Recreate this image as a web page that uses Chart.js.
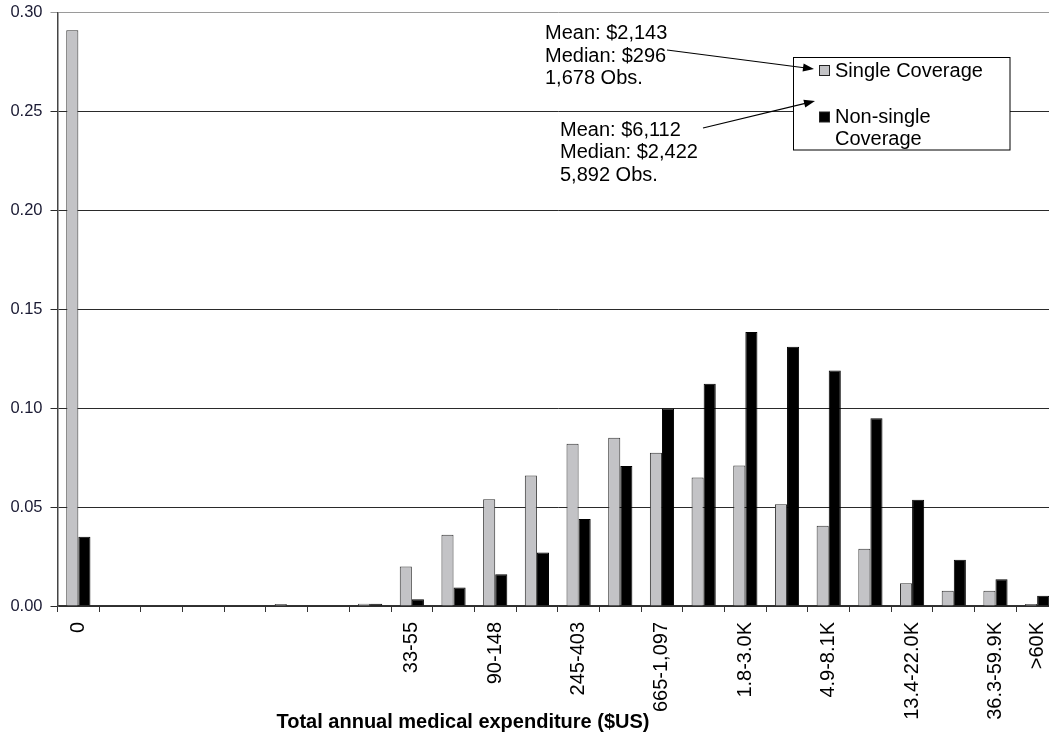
<!DOCTYPE html>
<html>
<head>
<meta charset="utf-8">
<script src="https://cdn.jsdelivr.net/npm/chart.js@4"></script>
<style>
  html, body { margin: 0; padding: 0; overflow: hidden; background: #fff; }
  #wrap { position: relative; width: 1058px; height: 736px; }
</style>
</head>
<body>
<div id="wrap"><canvas id="histChart"></canvas></div>
<script>
// expenditure bins (only every other bin is labelled in the original)
const binLabels = ['0', '', '', '', '', '', '', '', '33-55', '', '90-148', '', '245-403', '',
  '665-1,097', '', '1.8-3.0K', '', '4.9-8.1K', '', '13.4-22.0K', '', '36.3-59.9K', '>60K'];

const singleShare = [0.291, 0, 0, 0, 0, 0.001, 0, 0.0012, 0.020, 0.036, 0.054, 0.066, 0.082,
  0.085, 0.0775, 0.065, 0.071, 0.0514, 0.0406, 0.029, 0.0115, 0.0077, 0.0077, 0.001];

const nonSingleShare = [0.035, 0, 0, 0, 0, 0, 0, 0.0012, 0.0034, 0.0093, 0.016, 0.027, 0.044,
  0.0708, 0.0998, 0.1124, 0.1385, 0.1311, 0.1191, 0.0949, 0.0537, 0.0234, 0.0135, 0.0052];

const singleNote = ['Mean: $2,143', 'Median: $296', '1,678 Obs.'];
const nonSingleNote = ['Mean: $6,112', 'Median: $2,422', '5,892 Obs.'];
const xTitle = 'Total annual medical expenditure ($US)';

Chart.defaults.font.family = '"Liberation Sans", Arial, sans-serif';
Chart.defaults.color = '#111';

// notes, arrows, boxed legend and axis title, drawn on top of the bars
const overlay = {
  id: 'overlay',
  afterDraw(chart) {
    const ctx = chart.ctx;
    ctx.save();
    ctx.font = '20px "Liberation Sans", Arial, sans-serif';
    ctx.textBaseline = 'middle';
    ctx.textAlign = 'left';

    // legend box
    ctx.fillStyle = '#fff';
    ctx.fillRect(793.5, 57.5, 216.5, 92.5);
    ctx.strokeStyle = '#000';
    ctx.lineWidth = 1;
    ctx.strokeRect(793.5, 57.5, 216.5, 92.5);

    const rows = [71, 117.5];
    chart.data.datasets.forEach((ds, i) => {
      const y = rows[i];
      ctx.fillStyle = ds.backgroundColor;
      ctx.fillRect(819.5, y - 5.5, 10, 10);
      ctx.strokeStyle = '#222';
      ctx.strokeRect(819.5, y - 5.5, 10, 10);
      ctx.fillStyle = '#000';
      // simple word wrap inside the box
      const words = ds.label.split(' ');
      let line = '', lines = [];
      words.forEach(w => {
        const test = line ? line + ' ' + w : w;
        if (ctx.measureText(test).width > 168 && line) { lines.push(line); line = w; }
        else line = test;
      });
      lines.push(line);
      lines.forEach((l, k) => ctx.fillText(l, 835, y + k * 22));
    });

    ctx.fillStyle = '#000';
    ctx.strokeStyle = '#000';
    singleNote.forEach((t, i) => ctx.fillText(t, 545, 33.5 + i * 22.5));
    nonSingleNote.forEach((t, i) => ctx.fillText(t, 560, 130 + i * 22.5));

    const arrow = (x0, y0, x1, y1) => {
      const a = Math.atan2(y1 - y0, x1 - x0);
      ctx.lineWidth = 1.2;
      ctx.beginPath();
      ctx.moveTo(x0, y0);
      ctx.lineTo(x1 - 8 * Math.cos(a), y1 - 8 * Math.sin(a));
      ctx.stroke();
      ctx.beginPath();
      ctx.moveTo(x1, y1);
      ctx.lineTo(x1 - 11 * Math.cos(a) + 4 * Math.sin(a), y1 - 11 * Math.sin(a) - 4 * Math.cos(a));
      ctx.lineTo(x1 - 11 * Math.cos(a) - 4 * Math.sin(a), y1 - 11 * Math.sin(a) + 4 * Math.cos(a));
      ctx.closePath();
      ctx.fill();
    };
    arrow(667, 50, 814, 69);
    arrow(703, 128, 815, 101);

    ctx.font = 'bold 20px "Liberation Sans", Arial, sans-serif';
    ctx.textAlign = 'center';
    ctx.fillText(xTitle, 463, 722);
    ctx.restore();
  }
};

new Chart(document.getElementById('histChart'), {
  type: 'bar',
  data: {
    labels: binLabels,
    datasets: [
      {
        label: 'Single Coverage',
        data: singleShare,
        backgroundColor: '#c3c3c6',
        borderColor: '#333',
        borderWidth: c => (c.raw > 0 ? 1 : 0),
        borderSkipped: 'bottom'
      },
      {
        label: 'Non-single Coverage',
        data: nonSingleShare,
        backgroundColor: '#000',
        borderColor: '#000',
        borderWidth: c => (c.raw > 0 ? 1 : 0),
        borderSkipped: 'bottom'
      }
    ]
  },
  options: {
    responsive: true,
    maintainAspectRatio: false,
    animation: false,
    categoryPercentage: 0.58,
    barPercentage: 1.0,
    layout: { padding: { top: 12.5, right: 0, left: 0, bottom: 0 } },
    plugins: {
      legend: { display: false },
      tooltip: { enabled: false }
    },
    scales: {
      x: {
        grid: {
          offset: true,
          drawOnChartArea: false,
          drawTicks: true,
          tickLength: 6,
          color: '#333'
        },
        border: { color: '#333', width: 1.5 },
        ticks: {
          autoSkip: false,
          maxRotation: 90,
          minRotation: 90,
          padding: 10,
          color: '#000',
          font: { size: 20 }
        },
        afterFit: s => { s.height = 130; s.paddingLeft = 0; s.paddingRight = 0; }
      },
      y: {
        min: 0,
        max: 0.3,
        grid: {
          color: c => (c.tick && c.tick.value >= 0.3 ? '#9a9a9a' : '#2a2a2a'),
          lineWidth: 1,
          drawTicks: true,
          tickLength: 7
        },
        border: { color: '#444', width: 1.5 },
        ticks: {
          stepSize: 0.05,
          padding: 8,
          color: '#1a1a33',
          font: { size: 16.5 },
          callback: v => v.toFixed(2)
        },
        afterFit: s => { s.width = 57.5; s.paddingTop = 0; s.paddingBottom = 0; }
      }
    }
  },
  plugins: [overlay]
});
</script>
</body>
</html>
